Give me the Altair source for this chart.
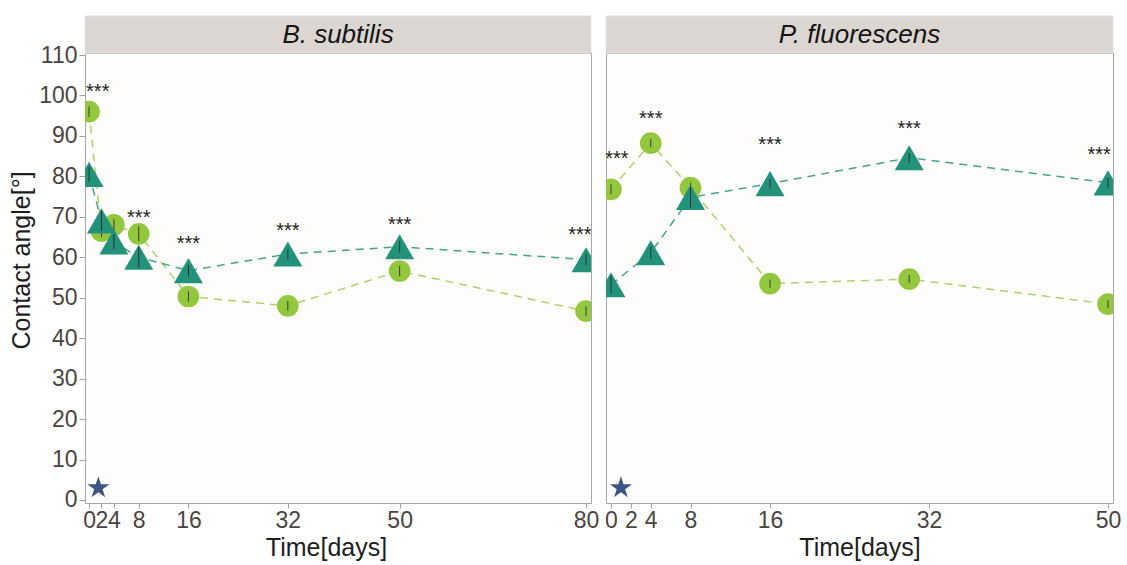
import altair as alt
import pandas as pd

# ---------------- data ----------------
# B. subtilis panel
bs_days = [0, 2, 4, 8, 16, 32, 50, 80]
bs_circle = [96.0, 66.5, 68.0, 65.8, 50.3, 48.0, 56.6, 46.7]
bs_circle_err = [1.3, 1.5, 1.5, 1.8, 1.3, 1.2, 1.3, 1.2]
bs_triangle = [80.5, 69.0, 63.8, 60.0, 56.7, 60.8, 62.6, 59.4]
bs_triangle_err = [1.9, 2.5, 1.8, 2.6, 1.5, 1.3, 1.5, 1.3]
bs_sig_day = [1.4, 8, 16, 32, 50, 79]
bs_sig_y = [102.0, 71.0, 64.6, 67.7, 69.1, 66.7]
bs_ticks = [0, 2, 4, 8, 16, 32, 50, 80]
bs_star_day = 1.5

# P. fluorescens panel
pf_days = [0, 4, 8, 16, 30, 50]
pf_circle = [76.8, 88.2, 77.2, 53.5, 54.6, 48.4]
pf_circle_err = [1.2, 1.0, 1.2, 1.0, 1.0, 1.0]
pf_triangle = [53.2, 61.1, 74.8, 78.2, 84.6, 78.4]
pf_triangle_err = [2.2, 1.5, 2.6, 1.2, 1.2, 1.2]
pf_sig_day = [0.6, 4, 16, 30, 49.1]
pf_sig_y = [85.5, 95.4, 88.9, 93.0, 86.4]
pf_ticks = [0, 2, 4, 8, 16, 32, 50]
pf_star_day = 1.0

star_value = 3.0
y_ticks = list(range(0, 111, 10))

# ---------------- style ----------------
FONT = "Liberation Sans"
CIRCLE_COL = "#93c83e"
CIRCLE_LINE = "#a9d46a"
TRI_COL = "#22937a"
TRI_LINE = "#43a48a"
STAR_COL = "#3b5786"
HEAD_FILL = "#dbd6d2"
LABEL_COL = "#4a4542"
TITLE_COL = "#1e1e1e"
STAR_PATH = ("M0,-1L0.2245,-0.309L0.9511,-0.309L0.3633,0.118L0.5878,0.809L0,0.382"
             "L-0.5878,0.809L-0.3633,0.118L-0.9511,-0.309L-0.2245,-0.309Z")
PLOT_H = 450
HEAD_H = 37


def panel(name, days, c, ce, t, te, sig_day, sig_y, star_day, ticks, xdom,
          width, show_y, title_x):
    circ = pd.DataFrame({"day": days, "value": c,
                         "lo": [v - e for v, e in zip(c, ce)],
                         "hi": [v + e for v, e in zip(c, ce)]})
    tri = pd.DataFrame({"day": days, "value": t,
                        "lo": [v - e for v, e in zip(t, te)],
                        "hi": [v + e for v, e in zip(t, te)]})
    sig = pd.DataFrame({"day": sig_day, "value": sig_y})
    star = pd.DataFrame({"day": [star_day], "value": [star_value]})
    head = pd.DataFrame({"name": [name]})

    xaxis = alt.Axis(values=ticks, format="d", labelFont=FONT, labelFontSize=23,
                     labelColor=LABEL_COL, labelOverlap=False, labelFlush=False,
                     labelPadding=1, tickColor="#a0a0a0", tickSize=5, domain=False,
                     grid=False, title="Time[days]", titleFont=FONT,
                     titleFontSize=25, titleFontWeight="normal",
                     titleColor=TITLE_COL, titlePadding=3, titleX=title_x)
    if show_y:
        yaxis = alt.Axis(values=y_ticks, labelFont=FONT, labelFontSize=23,
                         labelColor=LABEL_COL, labelPadding=2, tickColor="#a0a0a0",
                         tickSize=6, domain=False, grid=False,
                         title="Contact angle[°]", titleFont=FONT, titleFontSize=25,
                         titleFontWeight="normal", titleColor=TITLE_COL,
                         titlePadding=4, titleY=PLOT_H / 2 - 18)
    else:
        yaxis = None

    xs = alt.Scale(domain=xdom, nice=False, zero=False)
    ys = alt.Scale(domain=[-0.75, 110.5], nice=False, zero=False)

    def X():
        return alt.X("day:Q", scale=xs, axis=xaxis, title="Time[days]")

    def Y(field="value"):
        return alt.Y(f"{field}:Q", scale=ys, axis=yaxis, title="Contact angle[°]")

    layers = []
    layers.append(alt.Chart(circ).mark_line(color=CIRCLE_LINE, strokeWidth=1.5,
                                            strokeDash=[8, 6], clip=True)
                  .encode(x=X(), y=Y()))
    layers.append(alt.Chart(tri).mark_line(color=TRI_LINE, strokeWidth=1.5,
                                           strokeDash=[8, 6], clip=True)
                  .encode(x=X(), y=Y()))
    layers.append(alt.Chart(circ).mark_point(shape="circle", filled=True, opacity=1,
                                             size=470, color=CIRCLE_COL, clip=True)
                  .encode(x=X(), y=Y()))
    layers.append(alt.Chart(circ).mark_rule(color="#3a3a3a", strokeWidth=1, clip=True)
                  .encode(x=X(), y=Y("lo"), y2="hi:Q"))
    layers.append(alt.Chart(tri).mark_point(shape="triangle-up", filled=True,
                                            opacity=1, size=840, color=TRI_COL,
                                            clip=True)
                  .encode(x=X(), y=Y()))
    layers.append(alt.Chart(tri).mark_rule(color="#2f2f2f", strokeWidth=1, clip=True)
                  .encode(x=X(), y=Y("lo"), y2="hi:Q"))
    layers.append(alt.Chart(sig).mark_text(text="***", font=FONT, fontSize=20,
                                           color="#222222", baseline="alphabetic",
                                           dy=11, clip=True)
                  .encode(x=X(), y=Y()))
    layers.append(alt.Chart(star).mark_point(shape=STAR_PATH, filled=True,
                                             opacity=1, size=540, color=STAR_COL)
                  .encode(x=X(), y=Y()))
    # grey header strip with italic panel title
    layers.append(alt.Chart(head).mark_rect(fill=HEAD_FILL, stroke="#e6e2df",
                                            strokeWidth=1)
                  .encode(x=alt.value(0), x2=alt.value(width),
                          y=alt.value(-HEAD_H), y2=alt.value(0)))
    layers.append(alt.Chart(head).mark_text(font=FONT, fontSize=26,
                                            fontStyle="italic", color="#141414",
                                            baseline="middle", align="center")
                  .encode(x=alt.value(width / 2), y=alt.value(-HEAD_H / 2),
                          text="name:N"))
    return alt.layer(*layers).properties(width=width, height=PLOT_H)


left = panel("B. subtilis", bs_days, bs_circle, bs_circle_err, bs_triangle,
             bs_triangle_err, bs_sig_day, bs_sig_y, bs_star_day, bs_ticks,
             [-0.65, 80.8], 506, True, 506 / 2 - 12)
right = panel("P. fluorescens", pf_days, pf_circle, pf_circle_err, pf_triangle,
              pf_triangle_err, pf_sig_day, pf_sig_y, pf_star_day, pf_ticks,
              [-0.5, 50.5], 507, False, 507 / 2)

chart = (alt.hconcat(left, right, spacing=15, bounds="flush")
         .properties(padding={"left": 9, "top": 15, "right": 0, "bottom": 0},
                     background="white")
         .configure_view(stroke="#a8a8a8", strokeWidth=1, fill="#fefdfc"))

chart.save("out.html", embed_options={"renderer": "svg", "actions": False})
